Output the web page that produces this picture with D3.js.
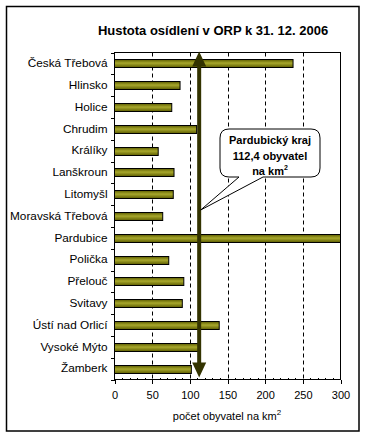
<!doctype html>
<html lang="cs">
<head>
<meta charset="UTF-8">
<title>Hustota osídlení</title>
<style>
  body { margin: 0; background: #fff; }
  text { font-family: "Liberation Sans", Arial, sans-serif; fill: #000; }
  .axis path, .axis line { stroke: #000; shape-rendering: crispEdges; }
  .axis text { font-size: 11px; }
  .axis.cat text { font-size: 11.8px; }
</style>
</head>
<body>
<script src="https://cdnjs.cloudflare.com/ajax/libs/d3/7.8.5/d3.min.js"></script>
<script>
var categories = ["Česká Třebová", "Hlinsko", "Holice", "Chrudim", "Králíky", "Lanškroun",
  "Litomyšl", "Moravská Třebová", "Pardubice", "Polička", "Přelouč", "Svitavy",
  "Ústí nad Orlicí", "Vysoké Mýto", "Žamberk"];
var values = [237, 87, 76, 109, 58, 79, 78, 64, 300, 72, 92, 90, 139, 114, 102];
var xTicks = [0, 50, 100, 150, 200, 250, 300];
var krajValue = 112.4;
var calloutLines = ["Pardubický kraj", "112,4 obyvatel", "na km"];

var width = 383, height = 437;
var pLeft = 114.5, pRight = 340.5, pTop = 52.5, pBottom = 379.5;

var svg = d3.select("body").append("svg")
  .attr("width", width)
  .attr("height", height);

var defs = svg.append("defs");
var grad = defs.append("linearGradient")
  .attr("id", "barGrad")
  .attr("x1", 0).attr("y1", 0).attr("x2", 0).attr("y2", 1);
grad.append("stop").attr("offset", "0%").attr("stop-color", "#5c5c00");
grad.append("stop").attr("offset", "45%").attr("stop-color", "#a8a82c");
grad.append("stop").attr("offset", "100%").attr("stop-color", "#5c5c00");

// outer frame
svg.append("rect")
  .attr("x", 6.5).attr("y", 6.5)
  .attr("width", 352.5).attr("height", 424.5)
  .attr("fill", "#fff")
  .attr("stroke", "#000")
  .attr("stroke-width", 1.5);

svg.append("text")
  .attr("x", 213).attr("y", 35)
  .attr("text-anchor", "middle")
  .style("font-size", "13px")
  .style("font-weight", "bold")
  .text("Hustota osídlení v ORP k 31. 12. 2006");

var x = d3.scaleLinear().domain([0, 300]).range([pLeft, pRight]);
var y = d3.scaleBand().domain(categories).range([pTop, pBottom]);

// plot area
svg.append("rect")
  .attr("x", pLeft).attr("y", pTop)
  .attr("width", pRight - pLeft).attr("height", pBottom - pTop)
  .attr("fill", "#fff")
  .attr("stroke", "#000")
  .attr("stroke-width", 1);

// dashed gridlines
svg.append("g")
  .selectAll("line")
  .data(xTicks.slice(1, -1))
  .enter()
  .append("line")
  .attr("x1", function(d){ return Math.round(x(d)) + 0.5; })
  .attr("x2", function(d){ return Math.round(x(d)) + 0.5; })
  .attr("y1", pTop).attr("y2", pBottom)
  .attr("stroke", "#000")
  .attr("stroke-dasharray", "4,3");

// bars
var barH = 8;
svg.append("g")
  .selectAll("rect")
  .data(values)
  .enter()
  .append("rect")
  .attr("x", pLeft)
  .attr("y", function(d, i){ return Math.round(y(categories[i]) + y.bandwidth() / 2 - barH / 2) + 0.5; })
  .attr("width", function(d){ return x(Math.min(d, 300)) - pLeft; })
  .attr("height", barH)
  .attr("fill", "url(#barGrad)")
  .attr("stroke", "#000")
  .attr("stroke-width", 1);

// x axis
var xAxis = svg.append("g")
  .attr("class", "axis")
  .attr("transform", "translate(0," + pBottom + ")")
  .call(d3.axisBottom(x).tickValues(xTicks).tickSize(4).tickPadding(8).tickSizeOuter(0));
xAxis.select(".domain").remove();
xAxis.append("line").attr("x1", pLeft).attr("x2", pRight).attr("stroke", "#000");
xAxis.selectAll(".minor")
  .data(d3.range(0, 301, 10).filter(function(d){ return d % 50; }))
  .enter()
  .append("line")
  .attr("x1", function(d){ return Math.round(x(d)) + 0.5; })
  .attr("x2", function(d){ return Math.round(x(d)) + 0.5; })
  .attr("y1", -2).attr("y2", 0)
  .attr("stroke", "#000");

// y axis
var yAxis = svg.append("g")
  .attr("class", "axis cat")
  .attr("transform", "translate(" + pLeft + ",0)")
  .call(d3.axisLeft(y).tickSize(0).tickPadding(7));
yAxis.select(".domain").remove();
yAxis.selectAll(".sep")
  .data(d3.range(categories.length + 1))
  .enter()
  .append("line")
  .attr("x1", -4).attr("x2", 0)
  .attr("y1", function(i){ return Math.round(pTop + i * y.step()) + 0.5; })
  .attr("y2", function(i){ return Math.round(pTop + i * y.step()) + 0.5; })
  .attr("stroke", "#000");

var xt = svg.append("text")
  .attr("x", 227).attr("y", 420)
  .attr("text-anchor", "middle")
  .style("font-size", "11px")
  .text("počet obyvatel na km");
xt.append("tspan").attr("dy", -5).style("font-size", "8px").text("2");

// regional average arrow
var ax = x(krajValue);
var arrowCol = "#333300";
svg.append("line")
  .attr("x1", ax).attr("x2", ax)
  .attr("y1", pTop + 10).attr("y2", pBottom - 12)
  .attr("stroke", arrowCol)
  .attr("stroke-width", 4);
svg.append("path")
  .attr("d", "M" + ax + "," + (pTop - 1) + " L" + (ax - 7) + "," + (pTop + 14) + " L" + (ax + 7) + "," + (pTop + 14) + "Z")
  .attr("fill", arrowCol);
svg.append("path")
  .attr("d", "M" + ax + "," + (pBottom - 2) + " L" + (ax - 7) + "," + (pBottom - 17) + " L" + (ax + 7) + "," + (pBottom - 17) + "Z")
  .attr("fill", arrowCol);

// callout
var cx0 = 220, cy0 = 129, cw = 100, ch = 48, r = 9;
var tipX = ax + 1.5, tipY = 210;
var b1 = 239, b2 = 263, by = cy0 + ch;
var calloutPath = "M" + (cx0 + r) + "," + cy0 +
  " H" + (cx0 + cw - r) + " Q" + (cx0 + cw) + "," + cy0 + " " + (cx0 + cw) + "," + (cy0 + r) +
  " V" + (by - r) + " Q" + (cx0 + cw) + "," + by + " " + (cx0 + cw - r) + "," + by +
  " H" + b2 + " L" + tipX + "," + tipY + " L" + b1 + "," + by +
  " H" + (cx0 + r) + " Q" + cx0 + "," + by + " " + cx0 + "," + (by - r) +
  " V" + (cy0 + r) + " Q" + cx0 + "," + cy0 + " " + (cx0 + r) + "," + cy0 + "Z";
svg.append("path")
  .attr("d", calloutPath)
  .attr("fill", "#fff")
  .attr("stroke", "#000")
  .attr("stroke-width", 1);

var ct = svg.append("g");
calloutLines.forEach(function(t, i){
  var el = ct.append("text")
    .attr("x", 270).attr("y", 144 + i * 15.5)
    .attr("text-anchor", "middle")
    .style("font-size", "11px")
    .style("font-weight", "bold")
    .text(t);
  if (i === calloutLines.length - 1) {
    el.append("tspan").attr("dy", -5).style("font-size", "7px").text("2");
  }
});
</script>
</body>
</html>
